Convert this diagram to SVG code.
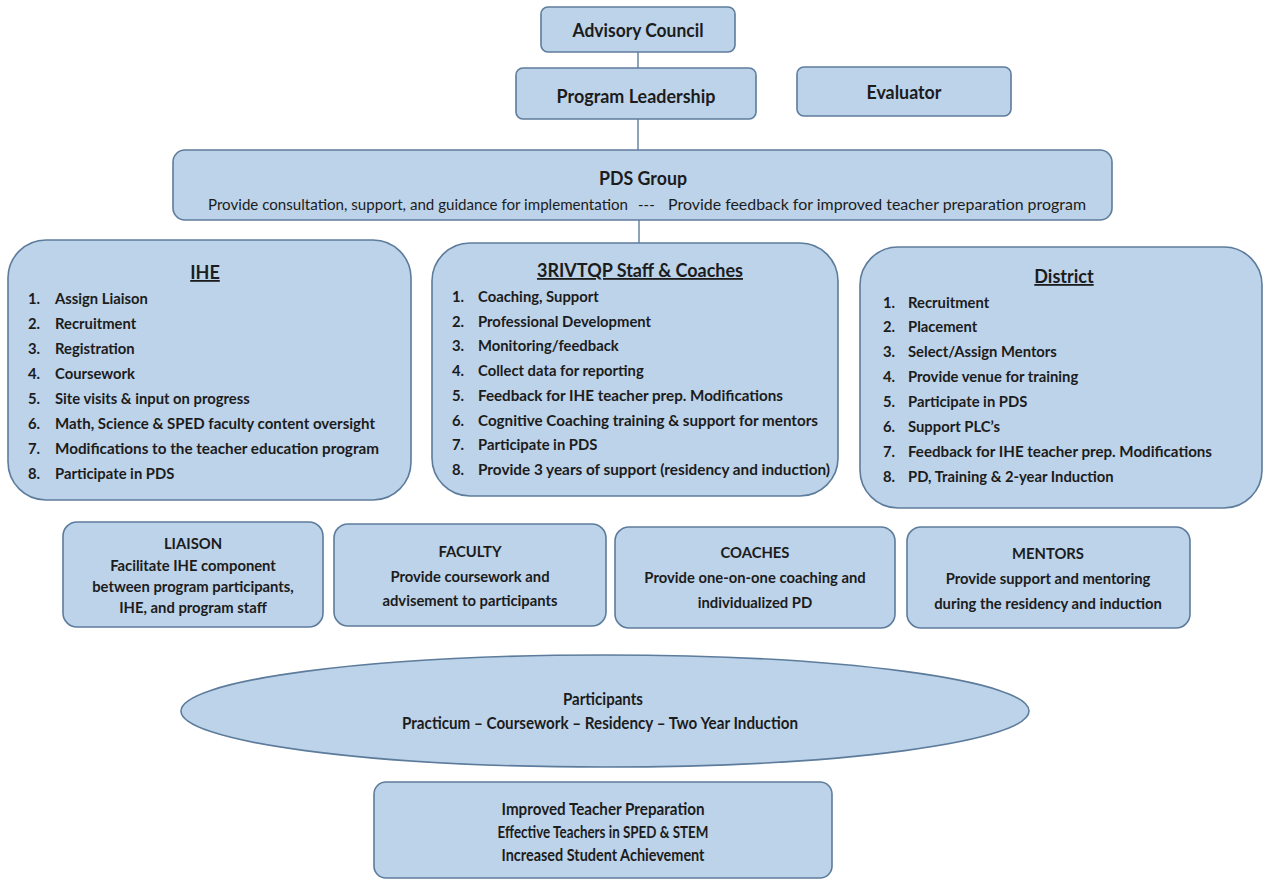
<svg xmlns="http://www.w3.org/2000/svg" width="1263" height="880" viewBox="0 0 1263 880">
<style>
.box{fill:#bcd3ea;stroke:#5d7c9c;stroke-width:1.6}
.t{font-family:Lato,"Open Sans","Liberation Sans",sans-serif;font-weight:bold;fill:#1c1c1c}
.li{font-size:14.8px}
.s{font-size:14.8px;text-anchor:middle}
.c{text-anchor:middle}
.n{font-family:Lato,"Open Sans","Liberation Sans",sans-serif;font-weight:normal;fill:#1c1c1c;font-size:15px}
.conn{stroke:#5d7c9c;stroke-width:1.4;fill:none}
</style>
<rect width="1263" height="880" fill="#ffffff"/>
<g id="connectors">
<line class="conn" x1="638" y1="52" x2="638" y2="68"/>
<line class="conn" x1="638" y1="119" x2="638" y2="150"/>
<line class="conn" x1="639" y1="220" x2="639" y2="243"/>
</g>
<g id="advisory">
<rect class="box" x="541" y="7" width="194" height="45" rx="7"/>
<text class="t c" x="638" y="37" font-size="18" textLength="131" lengthAdjust="spacingAndGlyphs">Advisory Council</text>
</g>
<g id="leadership">
<rect class="box" x="516" y="68" width="240" height="51" rx="7"/>
<text class="t c" x="636" y="103" font-size="18" textLength="159" lengthAdjust="spacingAndGlyphs">Program Leadership</text>
</g>
<g id="evaluator">
<rect class="box" x="797" y="67" width="214" height="49" rx="7"/>
<text class="t c" x="904" y="99" font-size="18" textLength="75" lengthAdjust="spacingAndGlyphs">Evaluator</text>
</g>
<g id="pds">
<rect class="box" x="173" y="150" width="939" height="70" rx="12"/>
<text class="t c" x="643" y="185" font-size="18" textLength="88" lengthAdjust="spacingAndGlyphs">PDS Group</text>
<text class="n" x="208" y="210" textLength="420" lengthAdjust="spacingAndGlyphs">Provide consultation, support, and guidance for implementation</text>
<text class="n" x="638" y="210">---</text>
<text class="n" x="668" y="210" textLength="418" lengthAdjust="spacingAndGlyphs">Provide feedback for improved teacher preparation program</text>
</g>
<g id="ihe">
<rect class="box" x="8" y="240" width="403" height="260" rx="38"/>
<text class="t c" x="205" y="279" font-size="18" text-decoration="underline">IHE</text>
<g class="t li">
<text x="28" y="304">1.</text><text x="55" y="304">Assign Liaison</text>
<text x="28" y="329">2.</text><text x="55" y="329">Recruitment</text>
<text x="28" y="354">3.</text><text x="55" y="354">Registration</text>
<text x="28" y="379">4.</text><text x="55" y="379">Coursework</text>
<text x="28" y="404">5.</text><text x="55" y="404">Site visits &amp; input on progress</text>
<text x="28" y="429">6.</text><text x="55" y="429" textLength="320" lengthAdjust="spacingAndGlyphs">Math, Science &amp; SPED faculty content oversight</text>
<text x="28" y="454">7.</text><text x="55" y="454" textLength="324" lengthAdjust="spacingAndGlyphs">Modifications to the teacher education program</text>
<text x="28" y="479">8.</text><text x="55" y="479">Participate in PDS</text>
</g>
</g>
<g id="staff">
<rect class="box" x="432" y="243" width="406" height="253" rx="38"/>
<text class="t c" x="640" y="277" font-size="18" text-decoration="underline" textLength="206" lengthAdjust="spacingAndGlyphs">3RIVTQP Staff &amp; Coaches</text>
<g class="t li">
<text x="452" y="302">1.</text><text x="478" y="302">Coaching, Support</text>
<text x="452" y="327">2.</text><text x="478" y="327">Professional Development</text>
<text x="452" y="351">3.</text><text x="478" y="351">Monitoring/feedback</text>
<text x="452" y="376">4.</text><text x="478" y="376">Collect data for reporting</text>
<text x="452" y="401">5.</text><text x="478" y="401" textLength="305" lengthAdjust="spacingAndGlyphs">Feedback for IHE teacher prep. Modifications</text>
<text x="452" y="426">6.</text><text x="478" y="426" textLength="340" lengthAdjust="spacingAndGlyphs">Cognitive Coaching training &amp; support for mentors</text>
<text x="452" y="450">7.</text><text x="478" y="450">Participate in PDS</text>
<text x="452" y="475">8.</text><text x="478" y="475" textLength="352" lengthAdjust="spacingAndGlyphs">Provide 3 years of support (residency and induction)</text>
</g>
</g>
<g id="district">
<rect class="box" x="860" y="247" width="402" height="261" rx="38"/>
<text class="t c" x="1064" y="283" font-size="18" text-decoration="underline">District</text>
<g class="t li">
<text x="883" y="308">1.</text><text x="908" y="308">Recruitment</text>
<text x="883" y="332">2.</text><text x="908" y="332">Placement</text>
<text x="883" y="357">3.</text><text x="908" y="357">Select/Assign Mentors</text>
<text x="883" y="382">4.</text><text x="908" y="382">Provide venue for training</text>
<text x="883" y="407">5.</text><text x="908" y="407">Participate in PDS</text>
<text x="883" y="432">6.</text><text x="908" y="432">Support PLC’s</text>
<text x="883" y="457">7.</text><text x="908" y="457" textLength="304" lengthAdjust="spacingAndGlyphs">Feedback for IHE teacher prep. Modifications</text>
<text x="883" y="482">8.</text><text x="908" y="482">PD, Training &amp; 2-year Induction</text>
</g>
</g>
<g id="liaison">
<rect class="box" x="63" y="522" width="260" height="105" rx="14"/>
<g class="t s">
<text x="193" y="549">LIAISON</text>
<text x="193" y="571">Facilitate IHE component</text>
<text x="193" y="592">between program participants,</text>
<text x="193" y="613">IHE, and program staff</text>
</g>
</g>
<g id="faculty">
<rect class="box" x="334" y="524" width="272" height="102" rx="14"/>
<g class="t s">
<text x="470" y="557">FACULTY</text>
<text x="470" y="582">Provide coursework and</text>
<text x="470" y="606">advisement to participants</text>
</g>
</g>
<g id="coaches">
<rect class="box" x="615" y="527" width="280" height="101" rx="14"/>
<g class="t s">
<text x="755" y="558">COACHES</text>
<text x="755" y="583">Provide one-on-one coaching and</text>
<text x="755" y="608">individualized PD</text>
</g>
</g>
<g id="mentors">
<rect class="box" x="907" y="527" width="283" height="101" rx="14"/>
<g class="t s">
<text x="1048" y="559">MENTORS</text>
<text x="1048" y="584">Provide support and mentoring</text>
<text x="1048" y="609">during the residency  and induction</text>
</g>
</g>
<g id="participants">
<ellipse class="box" cx="605" cy="711" rx="424" ry="56"/>
<g class="t c" font-size="17">
<text x="603" y="705" textLength="80" lengthAdjust="spacingAndGlyphs">Participants</text>
<text x="600" y="729" textLength="396" lengthAdjust="spacingAndGlyphs">Practicum – Coursework – Residency – Two Year Induction</text>
</g>
</g>
<g id="outcomes">
<rect class="box" x="374" y="782" width="458" height="96" rx="12"/>
<g class="t c" font-size="17">
<text x="603" y="815" textLength="203" lengthAdjust="spacingAndGlyphs">Improved Teacher Preparation</text>
<text x="603" y="838" textLength="211" lengthAdjust="spacingAndGlyphs">Effective Teachers in SPED &amp; STEM</text>
<text x="603" y="861" textLength="203" lengthAdjust="spacingAndGlyphs">Increased Student Achievement</text>
</g>
</g>
</svg>
